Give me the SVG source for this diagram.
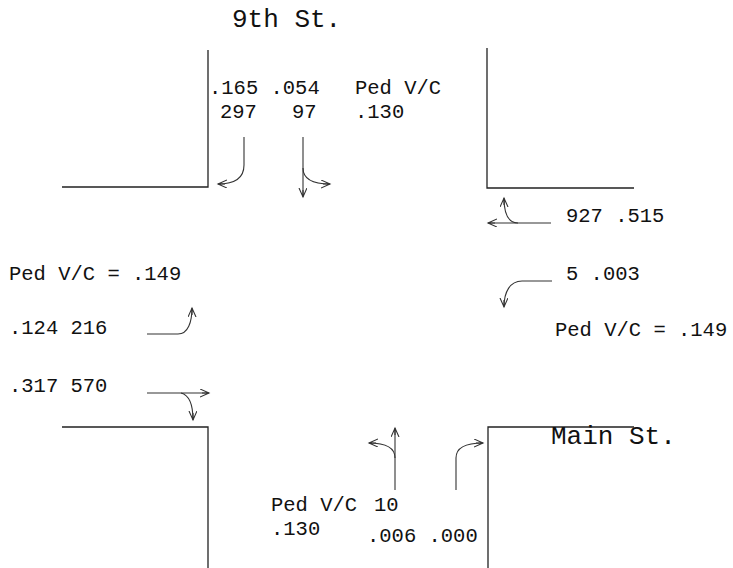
<svg xmlns="http://www.w3.org/2000/svg" width="733" height="568" viewBox="0 0 733 568">
<style>
text{font-family:"Liberation Mono","Courier New",monospace;font-size:20.5px;fill:#111}
.t{font-size:26px}
.curb{fill:none;stroke:#222;stroke-width:1.3}
.mv{fill:none;stroke:#333;stroke-width:1.1;marker-end:url(#ah)}
</style>
<defs>
<marker id="ah" markerUnits="userSpaceOnUse" markerWidth="12" markerHeight="10" refX="9" refY="4" orient="auto">
<path d="M0,0 L9,4 L0,8 M2,4 L9,4" fill="none" stroke="#333" stroke-width="1.1"/>
</marker>
</defs>
<g id="curbs">
<path class="curb" d="M208,50 V187 H62"/>
<path class="curb" d="M487,48 V188 H634"/>
<path class="curb" d="M62,427 H208 V568"/>
<path class="curb" d="M488,568 V427 H634"/>
</g>
<g id="street-names">
<text class="t" x="232" y="27">9th St.</text>
<text class="t" x="551" y="444">Main St.</text>
</g>
<g id="north-approach">
<text x="209" y="94">.165 .054</text>
<text x="220" y="118">297</text>
<text x="292" y="118">97</text>
<text x="355" y="94">Ped V/C</text>
<text x="355" y="118">.130</text>
</g>
<g id="east-approach">
<text x="566" y="222">927 .515</text>
<text x="566" y="280">5 .003</text>
<text x="555" y="336">Ped V/C = .149</text>
</g>
<g id="west-approach">
<text x="9" y="280">Ped V/C = .149</text>
<text x="9" y="334">.124 216</text>
<text x="9" y="392">.317 570</text>
</g>
<g id="south-approach">
<text x="271" y="511">Ped V/C</text>
<text x="374" y="511">10</text>
<text x="271" y="535">.130</text>
<text x="367" y="542">.006 .000</text>
</g>
<g id="connectors">
<path class="mv" d="M244,137 V165 C244,178 234,184 218,184"/>
<path class="mv" d="M303,137 V197"/>
<path class="mv" d="M303,168 C303,178 312,184 330,184"/>
<path class="mv" d="M551,223 H488"/>
<path class="mv" d="M518,223 C507,223 504,212 504,198"/>
<path class="mv" d="M552,281 H522 C510,281 504,292 504,307"/>
<path class="mv" d="M147,334 H178 C188,334 192,322 192,308"/>
<path class="mv" d="M147,393 H209"/>
<path class="mv" d="M181,393 C189,395 193,405 193,420"/>
<path class="mv" d="M395,490 V428"/>
<path class="mv" d="M395,458 C395,447 385,443 369,443"/>
<path class="mv" d="M456,490 V458 C456,448 466,443 483,443"/>
</g>
</svg>
